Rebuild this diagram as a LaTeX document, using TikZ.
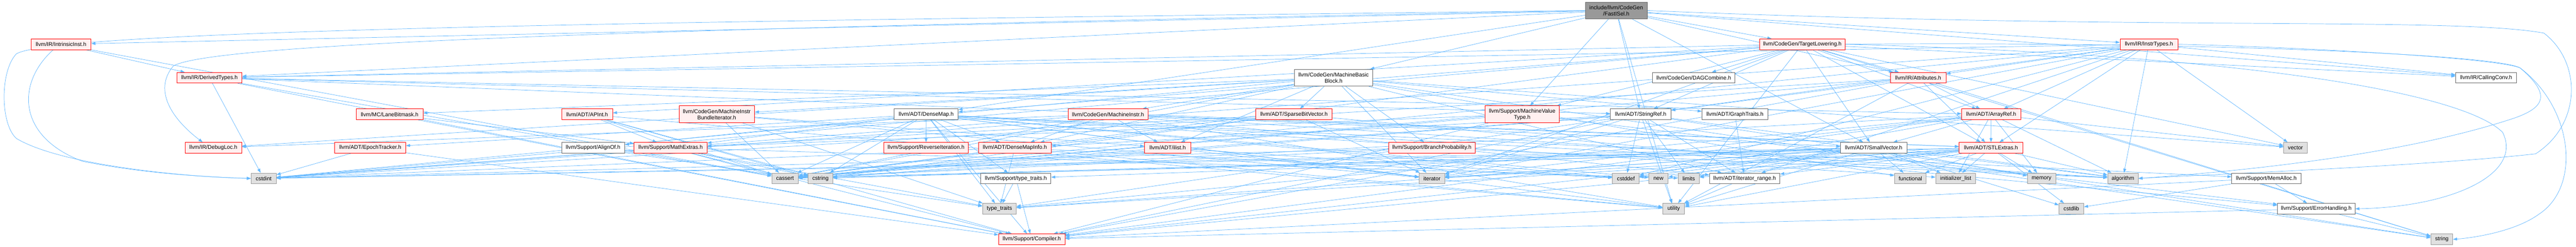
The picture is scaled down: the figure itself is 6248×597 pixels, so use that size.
\documentclass[tikz,border=0pt]{standalone}
\usepackage{fontspec}
\setmainfont{Liberation Sans}
\usetikzlibrary{arrows.meta,backgrounds}
\definecolor{eblue}{HTML}{63B8FF}
\definecolor{rfill}{HTML}{FFF0F0}
\definecolor{gfill}{HTML}{E0E0E0}
\definecolor{gline}{HTML}{999999}
\definecolor{wline}{HTML}{666666}
\definecolor{tfill}{HTML}{999999}
\newcommand{\dfont}{\fontsize{13.3pt}{15pt}\selectfont}
\tikzset{
  box/.style={rectangle, inner sep=0pt, minimum height=26pt, font=\dfont, align=center, line width=1pt, text=black},
  rbox/.style={box, draw=red, fill=rfill},
  wbox/.style={box, draw=wline, fill=white},
  gbox/.style={box, draw=gline, fill=gfill},
  tbox/.style={box, draw=wline, fill=tfill, minimum height=41pt},
  two/.style={minimum height=41pt},
  e/.style={draw=eblue, line width=0.9pt, -{Triangle[length=10pt,width=7pt]}}
}
\begin{document}
\begin{tikzpicture}[x=1pt,y=-1pt]
\useasboundingbox (0,0) rectangle (6248,597);
% row 1
\node[tbox, minimum width=150pt] (fast) at (3920,25.5) {include/llvm/CodeGen\\/FastISel.h};
% row 2
\node[rbox, minimum width=146pt] (intr) at (148,107) {llvm/IR/IntrinsicInst.h};
\node[rbox, minimum width=207pt] (tlow) at (4371.5,107) {llvm/CodeGen/TargetLowering.h};
\node[rbox, minimum width=140pt] (instr) at (5212,107) {llvm/IR/InstrTypes.h};
% row 3
\node[rbox, minimum width=158pt] (dtypes) at (508,188) {llvm/IR/DerivedTypes.h};
\node[wbox, two, minimum width=191pt] (mbb) at (3234.5,188) {llvm/CodeGen/MachineBasic\\Block.h};
\node[wbox, minimum width=200pt] (dagc) at (4108,188) {llvm/CodeGen/DAGCombine.h};
\node[rbox, minimum width=135pt] (attr) at (4652.5,188) {llvm/IR/Attributes.h};
\node[wbox, minimum width=148pt] (cconv) at (6030,188) {llvm/IR/CallingConv.h};
% row 4
\node[rbox, minimum width=162pt] (lane) at (945,276.5) {llvm/MC/LaneBitmask.h};
\node[rbox, minimum width=124pt] (apint) at (1424,276.5) {llvm/ADT/APInt.h};
\node[rbox, two, minimum width=183pt] (mibi) at (1738.5,276.5) {llvm/CodeGen/MachineInstr\\BundleIterator.h};
\node[wbox, minimum width=155pt] (dmap) at (2246.5,276.5) {llvm/ADT/DenseMap.h};
\node[rbox, minimum width=193pt] (minstr) at (2687.5,276.5) {llvm/CodeGen/MachineInstr.h};
\node[rbox, minimum width=185pt] (sbv) at (3138.5,276.5) {llvm/ADT/SparseBitVector.h};
\node[rbox, two, minimum width=180pt] (mvt) at (3692,276.5) {llvm/Support/MachineValue\\Type.h};
\node[wbox, minimum width=147pt] (sref) at (3979.5,276.5) {llvm/ADT/StringRef.h};
\node[wbox, minimum width=160pt] (gtraits) at (4208,276.5) {llvm/ADT/GraphTraits.h};
\node[rbox, minimum width=143pt] (aref) at (4829.5,276.5) {llvm/ADT/ArrayRef.h};
% row 5
\node[rbox, minimum width=137pt] (dloc) at (517.5,357.5) {llvm/IR/DebugLoc.h};
\node[rbox, minimum width=172pt] (epoch) at (898,357.5) {llvm/ADT/EpochTracker.h};
\node[wbox, minimum width=153pt] (alignof) at (1438.5,357.5) {llvm/Support/AlignOf.h};
\node[rbox, minimum width=177pt] (mext) at (1626.5,357.5) {llvm/Support/MathExtras.h};
\node[rbox, minimum width=206pt] (reviter) at (2246,357.5) {llvm/Support/ReverseIteration.h};
\node[rbox, minimum width=177pt] (dminfo) at (2461.5,357.5) {llvm/ADT/DenseMapInfo.h};
\node[rbox, minimum width=112pt] (ilist) at (2832,357.5) {llvm/ADT/ilist.h};
\node[rbox, minimum width=210pt] (bprob) at (3473,357.5) {llvm/Support/BranchProbability.h};
\node[wbox, minimum width=161pt] (svec) at (4544.5,357.5) {llvm/ADT/SmallVector.h};
\node[rbox, minimum width=154pt] (stlx) at (4829,357.5) {llvm/ADT/STLExtras.h};
\node[gbox, minimum width=57pt] (vector) at (5567.5,357.5) {vector};
% row 6
\node[gbox, minimum width=61pt] (cstdint) at (639.5,431.5) {cstdint};
\node[gbox, minimum width=64pt] (cassert) at (1904,431.5) {cassert};
\node[gbox, minimum width=60pt] (cstring) at (1990,431.5) {cstring};
\node[wbox, minimum width=170pt] (stt) at (2464,431.5) {llvm/Support/type\_traits.h};
\node[gbox, minimum width=62pt] (iterator) at (3473,431.5) {iterator};
\node[gbox, minimum width=65pt] (cstddef) at (3943.5,431.5) {cstddef};
\node[gbox, minimum width=47pt] (new) at (4022.5,431.5) {new};
\node[gbox, minimum width=52pt] (limits) at (4096,431.5) {limits};
\node[wbox, minimum width=171pt] (irange) at (4231.5,431.5) {llvm/ADT/iterator\_range.h};
\node[gbox, minimum width=77pt] (functional) at (4633.5,431.5) {functional};
\node[gbox, minimum width=97pt] (initlist) at (4743.5,431.5) {initializer\_list};
\node[gbox, minimum width=69pt] (memory) at (4951.5,431.5) {memory};
\node[gbox, minimum width=74pt] (algorithm) at (5149,431.5) {algorithm};
\node[wbox, minimum width=168pt] (memalloc) at (5497,431.5) {llvm/Support/MemAlloc.h};
% row 7
\node[gbox, minimum width=82pt] (typetraits) at (2424,505) {type\_traits};
\node[gbox, minimum width=53pt] (utility) at (4059.5,505) {utility};
\node[gbox, minimum width=60pt] (cstdlib) at (5024,505) {cstdlib};
\node[wbox, minimum width=188pt] (errh) at (5618,505) {llvm/Support/ErrorHandling.h};
% row 8
\node[rbox, minimum width=161pt] (compiler) at (2502.5,578.8) {llvm/Support/Compiler.h};
\node[gbox, minimum width=53pt] (string) at (5922.5,578.8) {string};

\begin{scope}[on background layer]
\fill[white] (0,0) rectangle (6248,597);
% curved connectors routed round the sides
\draw[e] (fast.west) .. controls (2000,48) and (150,66) .. (40,130) .. controls (0,170) and (0,300) .. (40,335) .. controls (150,400) and (450,428) .. (cstdint.west);
\draw[e] (fast.west) .. controls (2000,62) and (520,95) .. (420,160) .. controls (370,220) and (420,290) .. ([xshift=-26pt]dloc.north);
\draw[e] ([xshift=-19pt]intr.south) .. controls (40,200) and (40,330) .. (200,390) .. controls (350,420) and (500,428) .. (cstdint.west);
\draw[e] (fast.east) .. controls (5200,75) and (5950,40) .. (6170,80) .. controls (6262,150) and (6262,300) .. (6150,372) .. controls (5900,400) and (5400,420) .. (algorithm.east);
\draw[e] (instr.east) .. controls (5600,115) and (6050,140) .. (6112,164) .. controls (6240,260) and (6262,450) .. (6158,518) .. controls (6100,560) and (6000,575) .. (string.east);
\draw[e] (tlow.east) .. controls (5300,100) and (6050,130) .. (6112,164) .. controls (6190,230) and (6170,260) .. (6100,285) .. controls (5800,385) and (5350,420) .. (algorithm.east);
\draw[e] (tlow.east) .. controls (5500,135) and (5980,230) .. (6070,320) .. controls (6120,420) and (5950,500) .. (errh.east);
% straight connectors
\foreach \t in {intr,tlow,instr,dtypes,mbb,attr,cconv,dmap,mvt,sref,svec,utility}
  \draw[e] (fast) -- (\t);
\foreach \t in {dtypes,cassert}
  \draw[e] (intr) -- (\t);
\foreach \t in {apint,aref,dmap,svec,sref,dagc,mvt,attr,cconv,dtypes,stlx,cassert,cstdint,iterator,string,utility,vector}
  \draw[e] (tlow) -- (\t);
\foreach \t in {aref,stlx,sref,irange,attr,cconv,dtypes,cassert,cstddef,cstdint,iterator,vector,algorithm}
  \draw[e] (instr) -- (\t);
\foreach \t in {aref,stlx,sref,cassert,cstdint,compiler}
  \draw[e] (dtypes) -- (\t);
\foreach \t in {dminfo,gtraits,sbv,ilist,irange,minstr,mibi,dloc,lane,bprob,cassert,cstdint,functional,iterator,string,vector}
  \draw[e] (mbb) -- (\t);
\foreach \t in {aref,stlx,sref,cassert,cstdint,string,utility,compiler}
  \draw[e] (attr) -- (\t);
\foreach \t in {mext,compiler}
  \draw[e] (lane) -- (\t);
\foreach \t in {mext,compiler,cassert,cstring,utility}
  \draw[e] (apint) -- (\t);
\foreach \t in {ilist,cassert,iterator,typetraits}
  \draw[e] (mibi) -- (\t);
\foreach \t in {dminfo,epoch,alignof,compiler,mext,memalloc,reviter,stt,algorithm,cassert,cstddef,cstring,initlist,iterator,new,typetraits,utility}
  \draw[e] (dmap) -- (\t);
\foreach \t in {dminfo,ilist,irange,dloc,svec,stlx,cassert,cstdint,utility,algorithm}
  \draw[e] (minstr) -- (\t);
\foreach \t in {errh,mext,cassert,cstring,iterator}
  \draw[e] (sbv) -- (\t);
\foreach \t in {compiler,errh,mext,cassert}
  \draw[e] (mvt) -- (\t);
\foreach \t in {dminfo,irange,compiler,algorithm,cassert,cstddef,cstring,limits,string,typetraits,utility,iterator}
  \draw[e] (sref) -- (\t);
\draw[e] (gtraits) -- (irange);
\foreach \t in {stlx,svec,compiler,algorithm,cassert,cstddef,initlist,iterator,memory,typetraits,vector}
  \draw[e] (aref) -- (\t);
\foreach \t in {compiler,cstdint}
  \draw[e] (epoch) -- (\t);
\draw[e] (alignof) -- (typetraits);
\foreach \t in {compiler,cassert,cstdint,cstring,limits,typetraits}
  \draw[e] (mext) -- (\t);
\foreach \t in {cassert,cstddef,cstdint,typetraits,utility}
  \draw[e] (dminfo) -- (\t);
\foreach \t in {cassert,cstddef,iterator}
  \draw[e] (ilist) -- (\t);
\foreach \t in {algorithm,cassert,cstdint}
  \draw[e] (bprob) -- (\t);
\foreach \t in {compiler,stt,algorithm,cassert,cstddef,cstdint,cstdlib,cstring,functional,initlist,iterator,limits,memory,new,typetraits,utility}
  \draw[e] (svec) -- (\t);
\foreach \t in {irange,compiler,algorithm,cassert,cstddef,cstdint,cstdlib,functional,initlist,iterator,limits,memory,typetraits,utility}
  \draw[e] (stlx) -- (\t);
\foreach \t in {typetraits,compiler}
  \draw[e] (stt) -- (\t);
\draw[e] (irange) -- (utility);
\foreach \t in {compiler,errh,cstdlib}
  \draw[e] (memalloc) -- (\t);
\foreach \t in {compiler,string}
  \draw[e] (errh) -- (\t);
\end{scope}
\end{tikzpicture}
\end{document}
